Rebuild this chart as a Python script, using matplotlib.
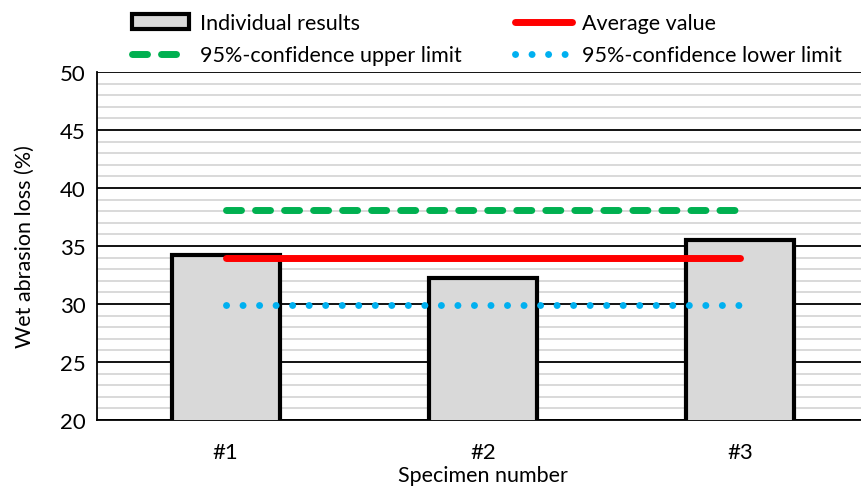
import matplotlib
matplotlib.use("Agg")
import matplotlib.pyplot as plt
from matplotlib.ticker import MultipleLocator

plt.rcParams['font.family'] = ['Lato', 'DejaVu Sans']

specimens = ["#1", "#2", "#3"]
individual = [34.2, 32.2, 35.5]
average = 34.0
upper_limit = 38.1
lower_limit = 29.9

fig = plt.figure(figsize=(8.62, 4.89), dpi=100)
ax = fig.add_axes([97 / 862, 1 - 421 / 489, (869 - 97) / 862, (421 - 73) / 489])

x = list(range(1, len(specimens) + 1))
bars = ax.bar(x, individual, width=0.42, bottom=0, color="#d9d9d9",
              edgecolor="black", linewidth=3, zorder=3)

avg_line, = ax.plot([x[0], x[-1]], [average, average], color="#ff0000", lw=5,
                    solid_capstyle="round", zorder=4)
up_line, = ax.plot([x[0], x[-1]], [upper_limit, upper_limit], color="#00b050",
                   lw=5, dash_capstyle="round", dashes=(2.16, 2.02), zorder=4)
low_line, = ax.plot([x[0], x[-1]], [lower_limit, lower_limit], color="#00b0f0",
                    lw=5, dash_capstyle="round", dashes=(0.01, 2.37), zorder=4)

ax.set_xlim(0.5, 3.5)
ax.set_ylim(20, 50)
ax.set_xticks(x)
ax.set_xticklabels(specimens)
ax.yaxis.set_major_locator(MultipleLocator(5))
ax.yaxis.set_minor_locator(MultipleLocator(1))
ax.grid(which="minor", axis="y", color="#d9d9d9", lw=1.4, zorder=0)
ax.grid(which="major", axis="y", color="black", lw=1.3, zorder=1)
ax.tick_params(axis="both", which="both", length=0, labelsize=16)
ax.tick_params(axis="x", pad=16)
ax.tick_params(axis="y", pad=8)
for side in ("top", "right"):
    ax.spines[side].set_visible(False)
ax.spines["left"].set_linewidth(1.3)
ax.spines["bottom"].set_linewidth(1.3)

ax.set_xlabel("Specimen number", fontsize=15.5, labelpad=2)
ax.set_ylabel("Wet abrasion loss (%)", fontsize=15.5, labelpad=18)

fig.legend([bars, up_line, avg_line, low_line],
           ["Individual results", "95%-confidence upper limit",
            "Average value", "95%-confidence lower limit"],
           ncol=2, loc="upper left", bbox_to_anchor=(113 / 862, 1.01),
           frameon=False, fontsize=15.5, handlelength=2.65, columnspacing=2.45,
           handletextpad=0.5, labelspacing=0.55)

fig.savefig("out.png", dpi=100)
